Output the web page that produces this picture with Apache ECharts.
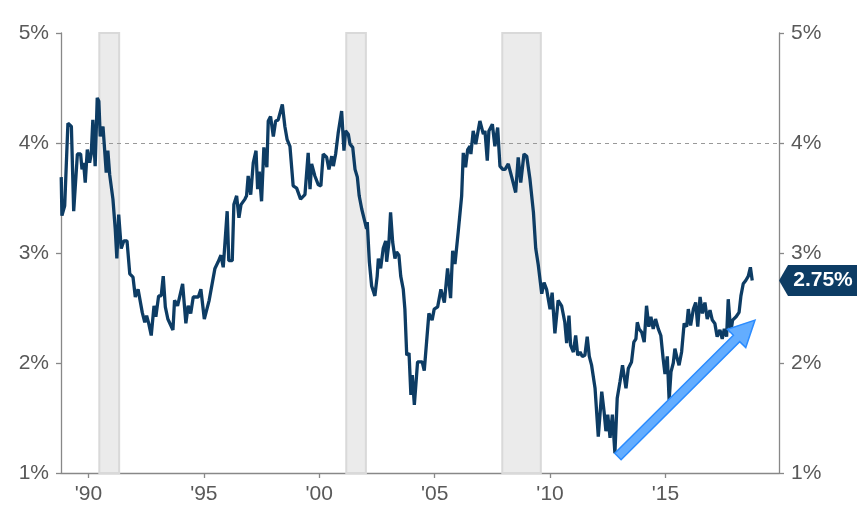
<!DOCTYPE html>
<html>
<head>
<meta charset="utf-8">
<script src="https://cdn.jsdelivr.net/npm/echarts@6/dist/echarts.min.js"></script>
<style>
  html, body { margin: 0; padding: 0; background: #fff; }
  #main { width: 864px; height: 505px; }
</style>
</head>
<body>
<div id="main"></div>
<script>
// dates as decimal years, values in percent
var years = [
  1988.82,1988.85,1988.97,1989.11,1989.26,1989.36,1989.52,1989.66,1989.72,1989.79,
  1989.86,1989.95,1990.05,1990.12,1990.19,1990.29,1990.38,1990.45,1990.51,1990.63,
  1990.70,1990.77,1990.84,1990.92,1991.06,1991.16,1991.23,1991.31,1991.42,1991.53,
  1991.67,1991.79,1991.93,1992.03,1992.15,1992.23,1992.33,1992.44,1992.52,1992.61,
  1992.72,1992.84,1992.92,1993.04,1993.15,1993.24,1993.33,1993.44,1993.66,1993.73,
  1993.86,1994.08,1994.22,1994.32,1994.43,1994.54,1994.76,1994.87,1995.02,1995.12,
  1995.23,1995.31,1995.48,1995.62,1995.74,1995.84,1995.91,1996.01,1996.08,1996.23,
  1996.30,1996.42,1996.52,1996.61,1996.78,1996.85,1996.92,1997.03,1997.14,1997.26,
  1997.33,1997.40,1997.50,1997.60,1997.73,1997.79,1997.89,1998.01,1998.11,1998.22,
  1998.40,1998.51,1998.61,1998.73,1998.87,1999.02,1999.19,1999.38,1999.52,1999.60,
  1999.67,1999.81,1999.96,2000.07,2000.17,2000.32,2000.42,2000.54,2000.61,2000.71,
  2000.82,2000.97,2001.07,2001.14,2001.26,2001.33,2001.45,2001.55,2001.65,2001.73,
  2001.84,2001.91,2001.98,2002.05,2002.08,2002.17,2002.27,2002.41,2002.51,2002.56,
  2002.66,2002.77,2002.88,2002.92,2003.02,2003.09,2003.18,2003.28,2003.35,2003.45,
  2003.53,2003.64,2003.71,2003.79,2003.89,2003.97,2004.03,2004.12,2004.26,2004.46,
  2004.55,2004.75,2004.89,2004.98,2005.13,2005.27,2005.42,2005.56,2005.69,2005.78,
  2005.88,2006.02,2006.17,2006.24,2006.34,2006.43,2006.53,2006.57,2006.67,2006.78,
  2006.96,2007.11,2007.18,2007.28,2007.35,2007.50,2007.61,2007.73,2007.83,2007.95,
  2008.05,2008.19,2008.34,2008.51,2008.62,2008.73,2008.87,2008.99,2009.13,2009.28,
  2009.38,2009.49,2009.64,2009.74,2009.85,2010.00,2010.09,2010.21,2010.35,2010.50,
  2010.64,2010.72,2010.82,2010.89,2011.01,2011.11,2011.20,2011.30,2011.40,2011.51,
  2011.61,2011.70,2011.80,2011.95,2012.09,2012.24,2012.34,2012.42,2012.50,2012.60,
  2012.70,2012.81,2012.91,2013.03,2013.14,2013.29,2013.39,2013.53,2013.63,2013.72,
  2013.78,2013.86,2013.97,2014.08,2014.18,2014.28,2014.37,2014.47,2014.57,2014.69,
  2014.80,2014.90,2014.98,2015.08,2015.16,2015.24,2015.34,2015.41,2015.51,2015.59,
  2015.70,2015.81,2015.92,2015.99,2016.09,2016.21,2016.31,2016.40,2016.50,2016.60,
  2016.71,2016.81,2016.93,2017.03,2017.14,2017.24,2017.36,2017.46,2017.55,2017.65,
  2017.72,2017.83,2017.91,2018.06,2018.19,2018.27,2018.37,2018.48,2018.59,2018.68,
  2018.76
];
var rates = [
  3.69,3.34,3.43,4.18,4.15,3.38,3.90,3.90,3.76,3.82,
  3.64,3.94,3.82,3.90,4.21,3.79,4.41,4.38,4.06,4.15,
  4.14,3.73,3.93,3.71,3.49,3.22,2.95,3.35,3.04,3.11,
  3.11,2.81,2.78,2.60,2.67,2.67,2.46,2.37,2.43,2.36,
  2.25,2.52,2.42,2.61,2.61,2.79,2.51,2.40,2.30,2.57,
  2.52,2.72,2.36,2.52,2.45,2.60,2.60,2.67,2.40,2.48,
  2.57,2.56,2.86,2.92,2.98,2.87,2.88,3.38,2.93,2.93,
  3.44,3.52,3.32,3.44,3.49,3.52,3.70,3.53,3.82,3.93,
  3.58,3.74,3.47,3.96,3.78,4.20,4.24,4.06,4.20,4.21,
  4.35,4.15,4.03,3.97,3.61,3.59,3.49,3.53,3.91,3.58,
  3.81,3.70,3.62,3.61,3.90,3.87,3.76,3.88,3.79,3.90,
  4.09,4.29,3.93,4.11,4.08,3.99,3.96,3.76,3.69,3.52,
  3.40,3.41,3.28,3.22,3.28,2.92,2.70,2.61,2.79,2.95,
  2.86,3.04,3.11,2.92,3.10,3.37,3.10,2.95,3.01,2.98,
  2.79,2.67,2.49,2.07,2.09,1.71,1.89,1.62,2.01,2.01,
  1.93,2.45,2.39,2.49,2.51,2.67,2.55,2.86,2.59,3.02,
  2.90,3.19,3.52,3.91,3.78,3.94,3.97,3.90,4.11,3.99,
  4.20,4.08,4.11,3.84,4.11,4.17,3.97,4.14,3.79,3.76,
  3.76,3.81,3.69,3.55,3.87,3.64,3.90,3.88,3.67,3.37,
  3.04,2.89,2.63,2.73,2.67,2.49,2.64,2.27,2.57,2.52,
  2.37,2.18,2.43,2.16,2.10,2.25,2.07,2.10,2.06,2.07,
  2.24,2.06,1.98,1.77,1.33,1.74,1.56,1.38,1.53,1.32,
  1.53,1.18,1.68,1.83,1.98,1.77,1.95,2.01,2.19,2.22,
  2.37,2.31,2.28,2.19,2.52,2.33,2.42,2.31,2.40,2.31,
  2.25,2.04,1.90,2.06,1.66,1.92,2.00,2.13,2.04,1.98,
  2.10,2.36,2.33,2.49,2.34,2.49,2.55,2.33,2.60,2.45,
  2.55,2.40,2.48,2.39,2.36,2.24,2.30,2.22,2.31,2.24,
  2.58,2.28,2.39,2.42,2.46,2.61,2.72,2.75,2.79,2.87,
  2.75
];
var recessions = [[1990.47, 1991.33], [2001.17, 2002.02], [2007.93, 2009.6]];
var yearTicks = [1990, 1995, 2000, 2005, 2010, 2015];
var refLevel = 4;
var lastValue = 2.75;
var arrowFrom = [2012.94, 1.15];
var arrowTo = [2018.88, 2.39];

var FONT = 'Liberation Sans, Arial, sans-serif';
var chart = echarts.init(document.getElementById('main'), null, { renderer: 'canvas' });

var seriesData = years.map(function (y, i) { return [y, rates[i]]; });

function yAxisCfg(pos) {
  return {
    type: 'value',
    position: pos,
    min: 1,
    max: 5,
    interval: 1,
    axisLine: { show: true, lineStyle: { color: '#888', width: 1.3 } },
    axisTick: { show: true, length: 5, lineStyle: { color: '#888', width: 1.3 } },
    splitLine: { show: false },
    axisLabel: {
      margin: 12,
      color: '#595959',
      fontFamily: FONT,
      fontSize: 21,
      formatter: '{value}%'
    }
  };
}

var option = {
  animation: false,
  backgroundColor: '#fff',
  grid: { left: 61, right: 85, top: 33, bottom: 30 },
  xAxis: {
    type: 'value',
    min: 1988.81,
    max: 2019.92,
    axisLine: { show: true, onZero: false, lineStyle: { color: '#888', width: 1.3 } },
    axisTick: { show: true, length: 5, customValues: yearTicks, lineStyle: { color: '#888', width: 1.3 } },
    splitLine: { show: false },
    axisLabel: {
      customValues: yearTicks,
      margin: 11,
      color: '#595959',
      fontFamily: FONT,
      fontSize: 21,
      formatter: function (v) { return "'" + String(Math.round(v)).slice(2); }
    }
  },
  yAxis: [yAxisCfg('left'), yAxisCfg('right')],
  series: [{
    type: 'line',
    data: seriesData,
    showSymbol: false,
    lineStyle: { color: '#0d3c64', width: 3.3 },
    z: 5,
    markArea: {
      silent: true,
      itemStyle: { color: '#ebebeb', borderColor: '#d9d9d9', borderWidth: 2 },
      data: recessions.map(function (r) { return [{ xAxis: r[0] }, { xAxis: r[1] }]; })
    },
    markLine: {
      silent: true,
      symbol: 'none',
      label: { show: false },
      lineStyle: { color: '#999', type: [4, 4], width: 1.2 },
      data: [{ yAxis: refLevel }]
    }
  }]
};
chart.setOption(option);

// arrow and end-value tag placed through the chart's own scales
function px(pt) { return chart.convertToPixel({ gridIndex: 0 }, pt); }

var a = px(arrowFrom), b = px(arrowTo);
var dx = b[0] - a[0], dy = b[1] - a[1];
var len = Math.sqrt(dx * dx + dy * dy);
var ux = dx / len, uy = dy / len, nx = -uy, ny = ux;
var shaft = 4.5, head = 13, headLen = 26;
var bx = b[0] - ux * headLen, by = b[1] - uy * headLen;
var arrowPts = [
  [a[0] + nx * shaft, a[1] + ny * shaft],
  [bx + nx * shaft, by + ny * shaft],
  [bx + nx * head, by + ny * head],
  [b[0], b[1]],
  [bx - nx * head, by - ny * head],
  [bx - nx * shaft, by - ny * shaft],
  [a[0] - nx * shaft, a[1] - ny * shaft]
];

var tagPos = px([2019.92, lastValue]);
var tagX = tagPos[0], tagY = tagPos[1];
var h = 15.5;
var tagPts = [
  [tagX, tagY], [tagX + 9, tagY - h], [tagX + 78, tagY - h],
  [tagX + 78, tagY + h], [tagX + 9, tagY + h]
];

chart.setOption({
  graphic: [
    {
      type: 'polygon',
      shape: { points: arrowPts },
      style: { fill: '#63adff', stroke: '#2b8cff', lineWidth: 1.5 },
      z: 10
    },
    {
      type: 'polygon',
      shape: { points: tagPts },
      style: { fill: '#0d3c64' },
      z: 10
    },
    {
      type: 'text',
      x: tagX + 44,
      y: tagY,
      style: {
        text: lastValue.toFixed(2) + '%',
        fill: '#fff',
        font: 'bold 21px ' + FONT,
        align: 'center',
        verticalAlign: 'middle'
      },
      z: 11
    }
  ]
});
</script>
</body>
</html>
